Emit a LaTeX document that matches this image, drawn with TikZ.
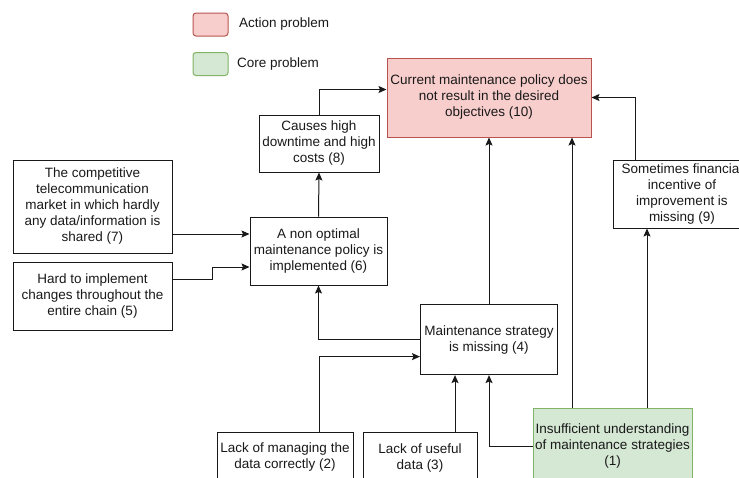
\documentclass[tikz,border=0pt]{standalone}
\usepackage{fontspec}
\setmainfont{Liberation Sans}
\usetikzlibrary{arrows.meta}
\definecolor{txt}{RGB}{25,25,25}
\definecolor{actfill}{HTML}{F8CECC}
\definecolor{actdraw}{HTML}{B85450}
\definecolor{corefill}{HTML}{D5E8D4}
\definecolor{coredraw}{HTML}{82B366}
\tikzset{
  box/.style={draw=txt, line width=1pt, fill=white, align=center, inner sep=0pt,
    text=txt, font=\fontsize{13.5}{16}\selectfont},
  actbox/.style={box, draw=actdraw, fill=actfill},
  corebox/.style={box, draw=coredraw, fill=corefill},
  swatch/.style={rounded corners=3pt, line width=1pt, minimum width=35pt, minimum height=23pt, inner sep=0pt},
  legtext/.style={text=txt, font=\fontsize{13.5}{16}\selectfont, anchor=west, inner sep=0pt},
  arr/.style={draw=txt, line width=1pt, -{Stealth[length=8pt,width=7pt,inset=1.5pt]}},
}
\begin{document}
\begin{tikzpicture}[x=1pt,y=-1pt]
\clip (0,0) rectangle (739,477);
\fill[white] (0,0) rectangle (739,477);
% legend
\node[swatch, draw=actdraw, fill=actfill] (sw1) at (210.5,24.5) {};
\node[legtext] (lg1) at (239,24.5) {Action problem};
\node[swatch, draw=coredraw, fill=corefill] (sw2) at (210.5,64) {};
\node[legtext] (lg2) at (237,64) {Core problem};
% boxes
\node[actbox, minimum width=204pt, minimum height=79pt] (b10) at (489,97.5)
  {Current maintenance policy does\\not result in the desired\\objectives (10)};
\node[box, minimum width=120pt, minimum height=57pt] (b8) at (319,143.5)
  {Causes high\\downtime and high\\costs (8)};
\node[box, minimum width=159pt, minimum height=93pt] (b7) at (92.5,206.5)
  {The competitive\\telecommunication\\market in which hardly\\any data/information is\\shared (7)};
\node[box, minimum width=159pt, minimum height=68pt] (b5) at (92.5,296)
  {Hard to implement\\changes throughout the\\entire chain (5)};
\node[box, minimum width=137pt, minimum height=68pt] (b6) at (318.5,251)
  {A non optimal\\maintenance policy is\\implemented (6)};
\node[box, minimum width=137pt, minimum height=70pt] (b4) at (489,339.6)
  {Maintenance strategy\\is missing (4)};
\node[box, minimum width=138pt, minimum height=68pt] (b9) at (682,194)
  {Sometimes financial\\incentive of\\improvement is\\missing (9)};
\node[corebox, minimum width=159pt, minimum height=76pt] (b1) at (612.5,446)
  {Insufficient understanding\\of maintenance strategies\\(1)};
\node[box, minimum width=136pt, minimum height=51pt] (b2) at (285,457.5)
  {Lack of managing the\\data correctly (2)};
\node[box, minimum width=114pt, minimum height=51pt] (b3) at (420,457.5)
  {Lack of useful\\data (3)};
% connectors
\draw[arr] (b8.north) |- ([yshift=8pt]b10.west);
\draw[arr] ([xshift=-47pt]b9.north) |- (b10.east);
\draw[arr] (b4.north) -- (b4.north |- b10.south);
\draw[arr] ([xshift=-40.5pt]b1.north) -- ([xshift=-40.5pt]b1.north |- b10.south);
\draw[arr] ([xshift=34.5pt]b1.north) -- ([xshift=34.5pt]b1.north |- b9.south);
\draw[arr] (b6.north) -- (b8.south);
\draw[arr] ([yshift=-27.5pt]b7.east) -- ([yshift=-27.5pt]b7.east -| b6.west);
\draw[arr] ([yshift=17pt]b5.east) -- ++(40,0) |- ([yshift=-16pt]b6.west);
\draw[arr] (b4.west) -| (b6.south);
\draw[arr] ([xshift=34pt]b2.north) |- ([yshift=-17pt]b4.west);
\draw[arr] ([xshift=35pt]b3.north) -- ([xshift=35pt]b3.north |- b4.south);
\draw[arr] (b1.west) -| (b4.south);
\end{tikzpicture}
\end{document}
